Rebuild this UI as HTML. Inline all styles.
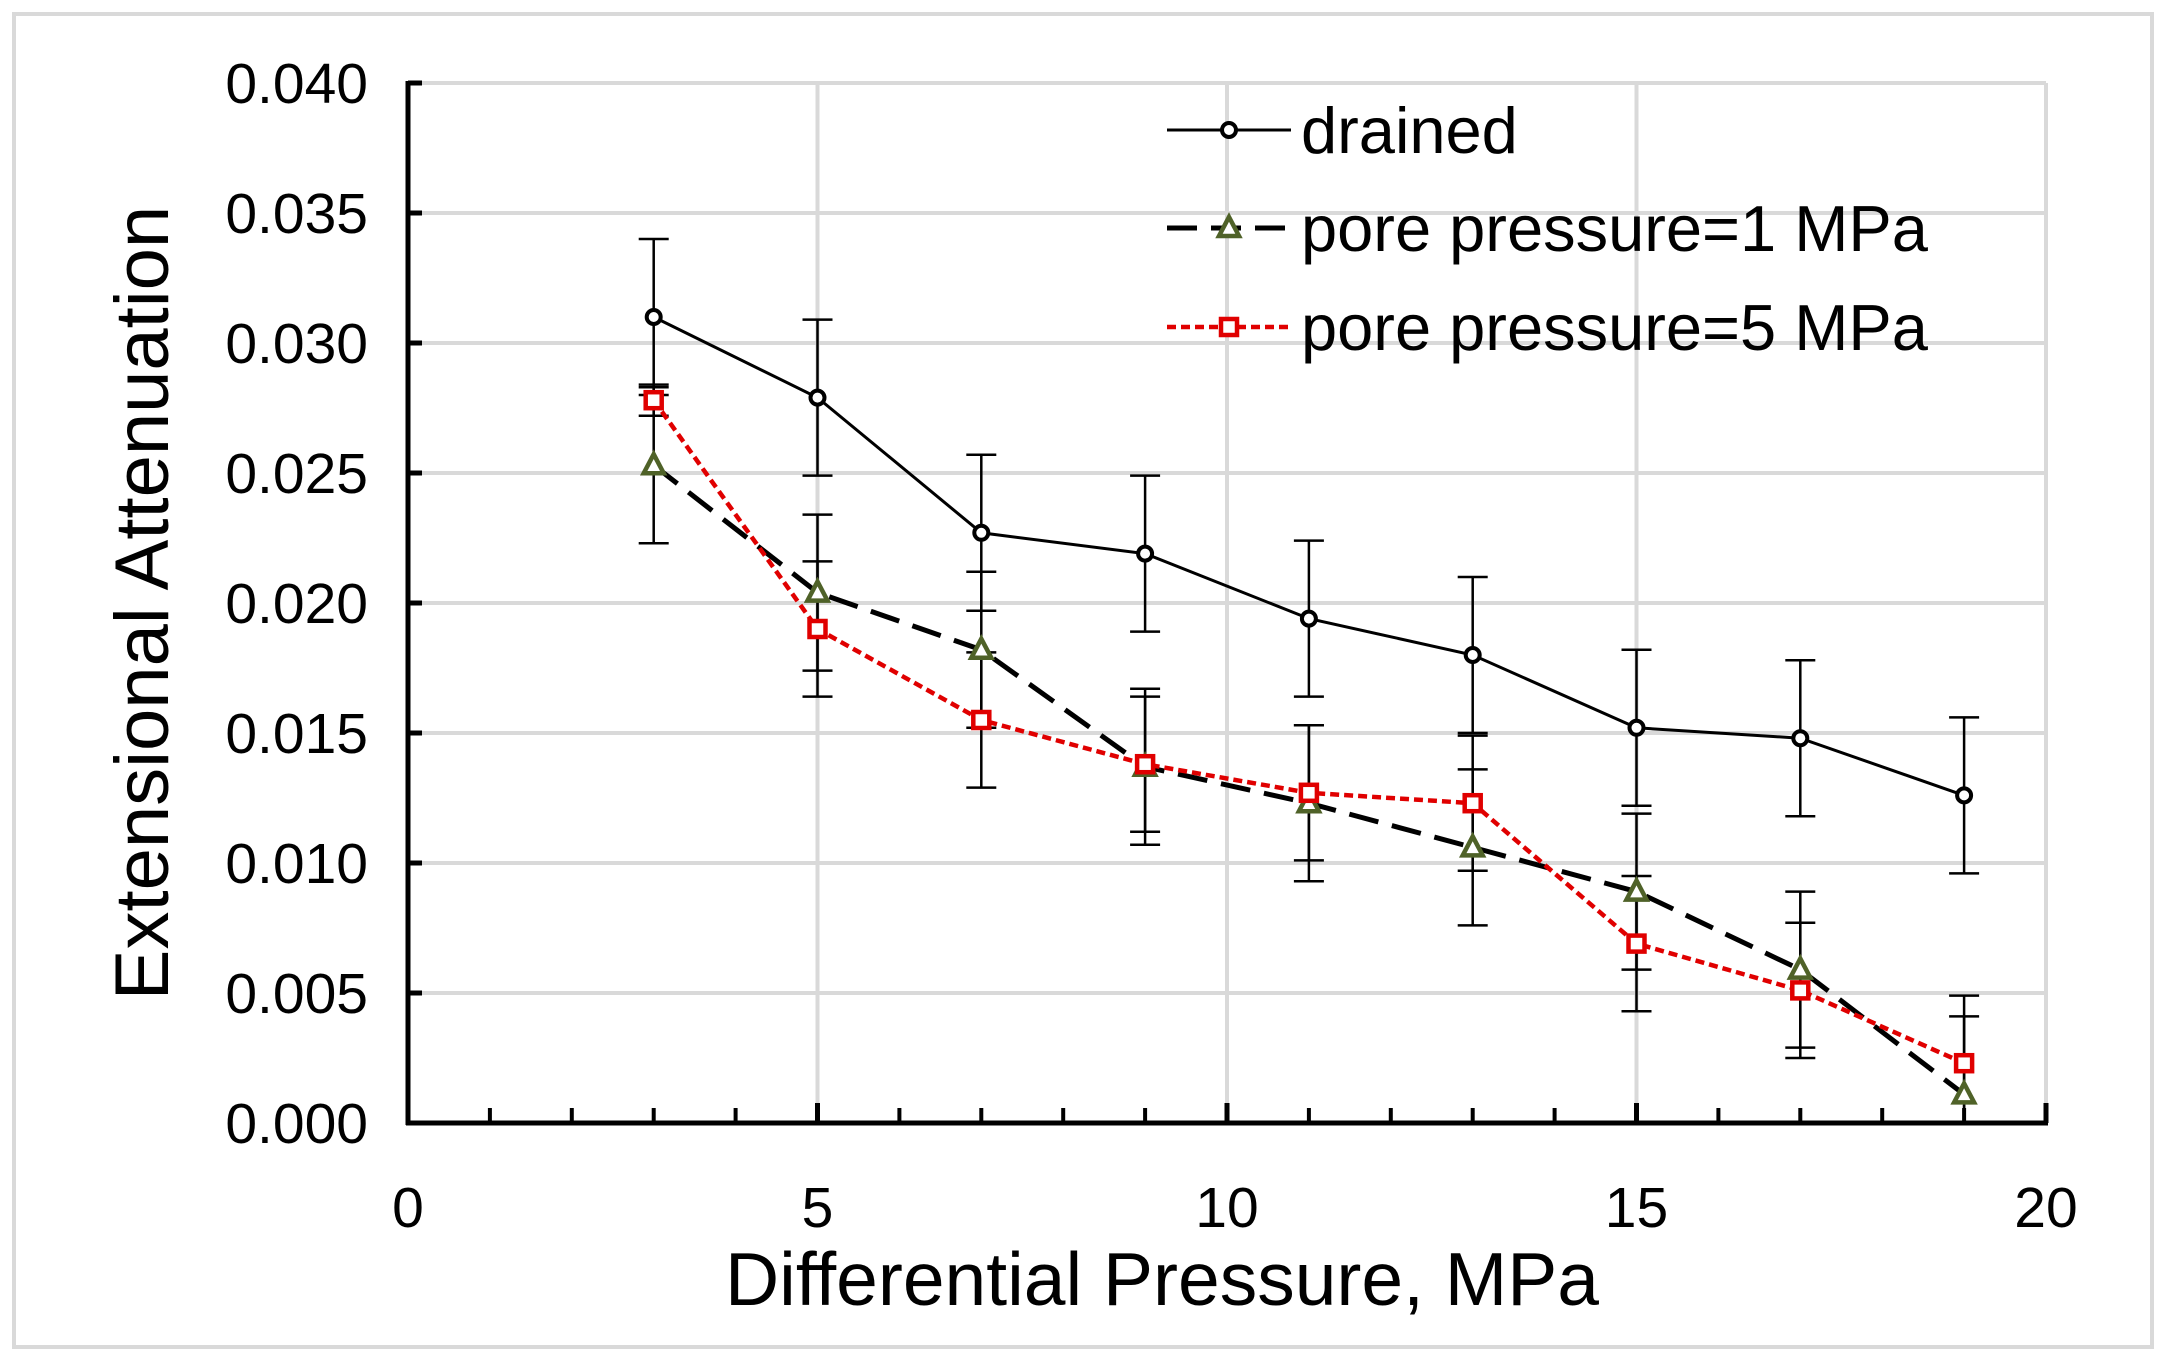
<!DOCTYPE html>
<html><head><meta charset="utf-8"><style>
html,body{margin:0;padding:0;background:#fff;}
svg{display:block;font-family:"Liberation Sans",Arial,sans-serif;}
</style></head><body>
<svg id="chart" width="2166" height="1364" viewBox="0 0 2166 1364" xmlns="http://www.w3.org/2000/svg">
<defs><clipPath id="plotclip"><rect x="408" y="60" width="1660" height="1063"/></clipPath></defs>
<rect x="14" y="14" width="2138" height="1333" fill="#fff" stroke="#d9d9d9" stroke-width="4"/>
<g id="grid"></g>
<g id="axes"></g>
<g id="series"></g>
<text x="1162" y="1305" font-size="75" text-anchor="middle">Differential Pressure, MPa</text>
<text transform="translate(168,603) rotate(-90)" font-size="76" text-anchor="middle">Extensional Attenuation</text>
<g id="legend"></g>
</svg>
<script>
const xValues = [3,5,7,9,11,13,15,17,19];
const drained = [31.0,27.9,22.7,21.9,19.4,18.0,15.2,14.8,12.6];
const drainedErr = [3.0,3.0,3.0,3.0,3.0,3.0,3.0,3.0,3.0];
const pp1 = [25.3,20.4,18.2,13.7,12.3,10.6,8.9,5.9,1.1];
const pp1Err = [3.0,3.0,3.0,3.0,3.0,3.0,3.0,3.0,3.0];
const pp5 = [27.8,19.0,15.5,13.8,12.7,12.3,6.9,5.1,2.3];
const pp5Err = [0.6,2.6,2.6,2.6,2.6,2.6,2.6,2.6,2.6];
const xTicks = [0,5,10,15,20];
const yTicks = [0,5,10,15,20,25,30,35,40];
const yTickLabels = ["0.000","0.005","0.010","0.015","0.020","0.025","0.030","0.035","0.040"];
const legendLabels = ["drained","pore pressure=1 MPa","pore pressure=5 MPa"];

const NS="http://www.w3.org/2000/svg";
const X0=408,X1=2046,Y0=1123,Y1=83;
const sx=v=>X0+(v-0)/20*(X1-X0);
const sy=v=>Y0-(v/40)*(Y0-Y1);
function mk(tag,attrs,parent){const e=document.createElementNS(NS,tag);for(const k in attrs)e.setAttribute(k,attrs[k]);parent.appendChild(e);return e;}
const grid=document.getElementById('grid'),axes=document.getElementById('axes'),ser=document.getElementById('series'),leg=document.getElementById('legend');

yTicks.forEach((t,i)=>{
  if(t>0){const l=mk('line',{x1:X0,x2:X1,y1:sy(t),y2:sy(t),stroke:'#d9d9d9','stroke-width':4},grid);
  
  }
  const tk=mk('line',{x1:X0,x2:X0+14,y1:sy(t),y2:sy(t),stroke:'#000','stroke-width':5},axes);
  
  
  const tx=mk('text',{x:X0-40,y:sy(t)+20,'font-size':57,'text-anchor':'end'},axes);
  tx.textContent=yTickLabels[i];
  
  
});
xTicks.forEach(t=>{
  if(t>0){const l=mk('line',{x1:sx(t),x2:sx(t),y1:Y0,y2:Y1,stroke:'#d9d9d9','stroke-width':4},grid);
  
  }
  const tx=mk('text',{x:sx(t),y:1227,'font-size':57,'text-anchor':'middle'},axes);
  tx.textContent=String(t);
  
  
});
for(let v=1;v<=20;v++){
  const major=v%5===0;
  const tk=mk('line',{x1:sx(v),x2:sx(v),y1:Y0,y2:Y0-(major?20:15),stroke:'#000','stroke-width':major?5:4},axes);
  
  
}
const ya=mk('line',{x1:X0,x2:X0,y1:Y1-2,y2:Y0+2,stroke:'#000','stroke-width':5},axes);


const xa=mk('line',{x1:X0-2,x2:X1+2,y1:Y0,y2:Y0,stroke:'#000','stroke-width':5},axes);



const errG=mk('g',{'clip-path':'url(#plotclip)'},ser);


function errs(vals,err,name){
  vals.forEach((v,i)=>{
    const x=sx(xValues[i]);
    const g=mk('path',{d:`M${x},${sy(v+err[i])}V${sy(v-err[i])}M${x-15},${sy(v+err[i])}h30M${x-15},${sy(v-err[i])}h30`,stroke:'#000','stroke-width':2.5,fill:'none'},errG);
    
    
  });
}
function line(vals,style,name){
  const d=vals.map((v,i)=>(i?'L':'M')+sx(xValues[i])+','+sy(v)).join('');
  const p=mk('path',Object.assign({d:d,fill:'none'},style),ser);
  
  
}
function marker(type,x,y,parent){
  let m;
  if(type==='circle') m=mk('circle',{cx:x,cy:y,r:7,fill:'#fff',stroke:'#000','stroke-width':4},parent);
  else if(type==='tri') m=mk('path',{d:`M${x},${y-11}L${x+10},${y+8}L${x-10},${y+8}Z`,fill:'#fff',stroke:'#4f6228','stroke-width':4.5},parent);
  else m=mk('rect',{x:x-8,y:y-8,width:16,height:16,fill:'#fff',stroke:'#e00000','stroke-width':4.5},parent);
  return m;
}
function marks(vals,type,name){
  vals.forEach((v,i)=>{const m=marker(type,sx(xValues[i]),sy(v),ser);
    
    });
}
errs(drained,drainedErr,'drained');
errs(pp1,pp1Err,'pp1');
errs(pp5,pp5Err,'pp5');
const st=[{stroke:'#000','stroke-width':3},{stroke:'#000','stroke-width':5,'stroke-dasharray':'30 14'},{stroke:'#e00000','stroke-width':4.5,'stroke-dasharray':'9 5'}];
line(drained,st[0],'drained');
line(pp1,st[1],'pp1');
line(pp5,st[2],'pp5');
marks(drained,'circle','drained');
marks(pp1,'tri','pp1');
marks(pp5,'sq','pp5');

const types=['circle','tri','sq'];
const ly=[130,228,327];
legendLabels.forEach((lab,i)=>{
  const g=mk('g',{},leg);
  
  
  mk('path',Object.assign({d:`M1167,${ly[i]}H1291`,fill:'none'},st[i]),g);
  marker(types[i],1229,ly[i],g);
  const t=mk('text',{x:1301,y:ly[i]+23,'font-size':65},g);
  t.textContent=lab;
});
</script>
</body></html>
